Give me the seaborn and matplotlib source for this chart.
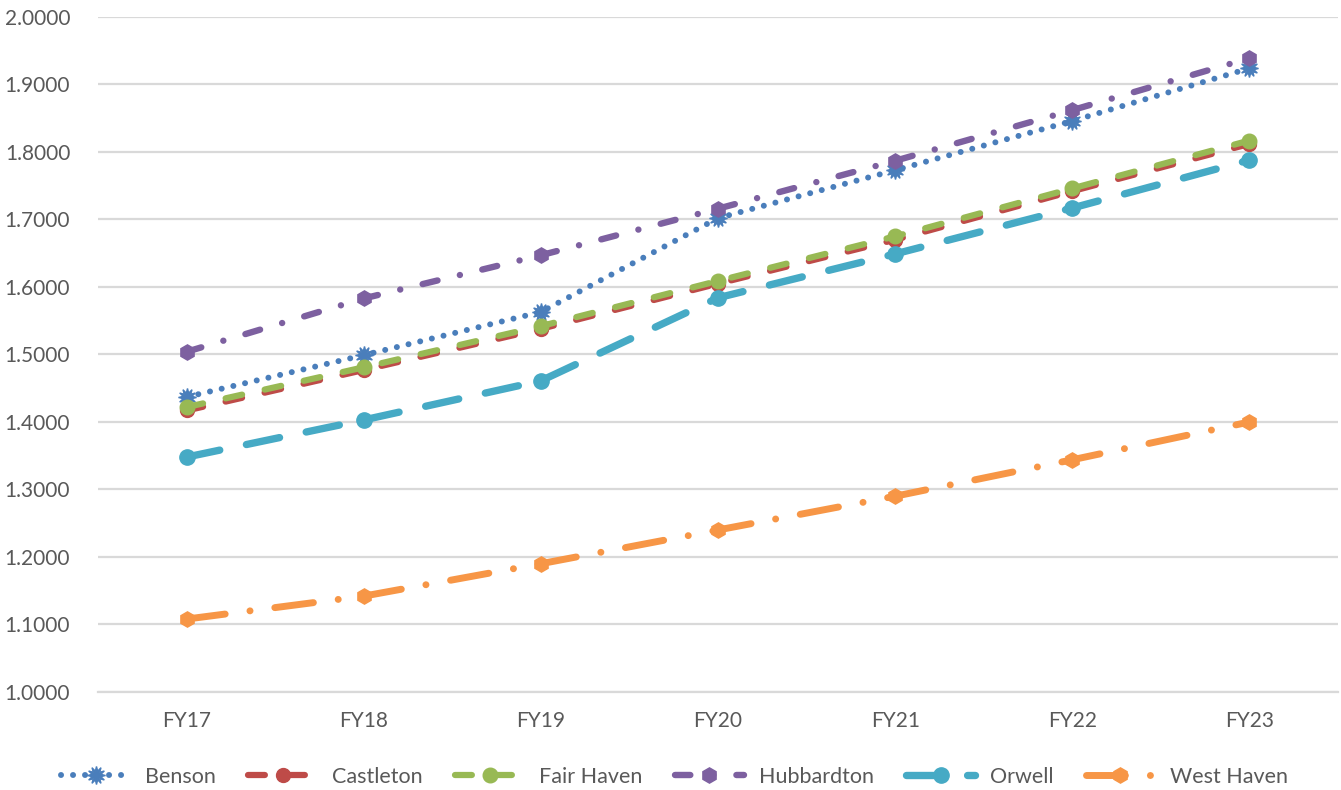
import matplotlib
matplotlib.use("Agg")
import matplotlib.pyplot as plt
import seaborn as sns
import pandas as pd

# Fiscal years on the x axis
years = ["FY17", "FY18", "FY19", "FY20", "FY21", "FY22", "FY23"]

# Yearly values per town
benson = [1.437, 1.499, 1.563, 1.702, 1.773, 1.846, 1.924]
castleton = [1.417, 1.477, 1.538, 1.605, 1.670, 1.742, 1.812]
fair_haven = [1.422, 1.481, 1.542, 1.609, 1.675, 1.746, 1.817]
hubbardton = [1.504, 1.583, 1.647, 1.716, 1.787, 1.862, 1.939]
orwell = [1.348, 1.403, 1.461, 1.584, 1.649, 1.717, 1.788]
west_haven = [1.108, 1.142, 1.190, 1.240, 1.290, 1.344, 1.400]

towns = ["Benson", "Castleton", "Fair Haven", "Hubbardton", "Orwell", "West Haven"]
series = [benson, castleton, fair_haven, hubbardton, orwell, west_haven]

y_ticks = [1.0, 1.1, 1.2, 1.3, 1.4, 1.5, 1.6, 1.7, 1.8, 1.9, 2.0]

df = pd.DataFrame(
    [(t, y, v) for t, vals in zip(towns, series) for y, v in zip(years, vals)],
    columns=["town", "year", "value"],
)

DOT = 0.01  # near-zero dash that round caps turn into a dot

styles = {
    "Benson": dict(color="#4a7ebb", lw=4.3, ls=(0, (DOT, 2.0)),
                   marker=(12, 1, 0), ms=13),
    "Castleton": dict(color="#be4b48", lw=4.5, ls=(0, (2.7, 3.7)),
                      marker="o", ms=10),
    "Fair Haven": dict(color="#98b954", lw=4.5, ls=(0, (2.7, 3.7)),
                       marker="o", ms=10.5),
    "Hubbardton": dict(color="#7d60a0", lw=4.6, ls=(0, (2.4, 3.6, DOT, 3.6)),
                       marker="h", ms=11),
    "Orwell": dict(color="#46aac5", lw=5.3, ls=(0, (4.6, 3.7)),
                   marker="o", ms=11),
    "West Haven": dict(color="#f79646", lw=5.0, ls=(0, (5.6, 3.6, DOT, 3.6)),
                       marker="h", ms=11),
}

sns.set_theme(style="white")
plt.rcParams["font.family"] = ["Lato", "DejaVu Sans"]

fig = plt.figure(figsize=(13.41, 7.9), dpi=100)
ax = fig.add_axes([0.0731, 0.1241, 0.9247, 0.8544])

for town in towns:
    s = styles[town]
    sns.lineplot(
        data=df[df["town"] == town], x="year", y="value", ax=ax,
        color=s["color"], linewidth=s["lw"], linestyle=s["ls"],
        marker=s["marker"], markersize=s["ms"],
        markeredgecolor=s["color"], markerfacecolor=s["color"],
        markeredgewidth=1, dash_capstyle="round", solid_capstyle="round",
        label=town, sort=False,
    )

ax.set_xlim(-0.5, 6.5)
ax.set_ylim(1.0, 2.0)
ax.set_yticks(y_ticks)
ax.set_yticklabels([f"{v:.4f}" for v in y_ticks])
ax.set_xlabel("")
ax.set_ylabel("")
ax.grid(axis="y", color="#d9d9d9", linewidth=1.6)
ax.set_axisbelow(True)
for sp in ["top", "right", "left"]:
    ax.spines[sp].set_visible(False)
ax.spines["bottom"].set_color("#d9d9d9")
ax.spines["bottom"].set_linewidth(1.6)
ax.tick_params(axis="both", length=0, labelsize=15, colors="#595959")
ax.tick_params(axis="y", pad=20)
ax.tick_params(axis="x", pad=14)

leg = ax.legend(
    loc="upper center", bbox_to_anchor=(0.465, -0.082), ncol=6,
    frameon=False, fontsize=15.5, handlelength=3.2, columnspacing=1.5,
    handletextpad=0.7,
)
for t in leg.get_texts():
    t.set_color("#595959")

fig.savefig("out.png", dpi=100)
